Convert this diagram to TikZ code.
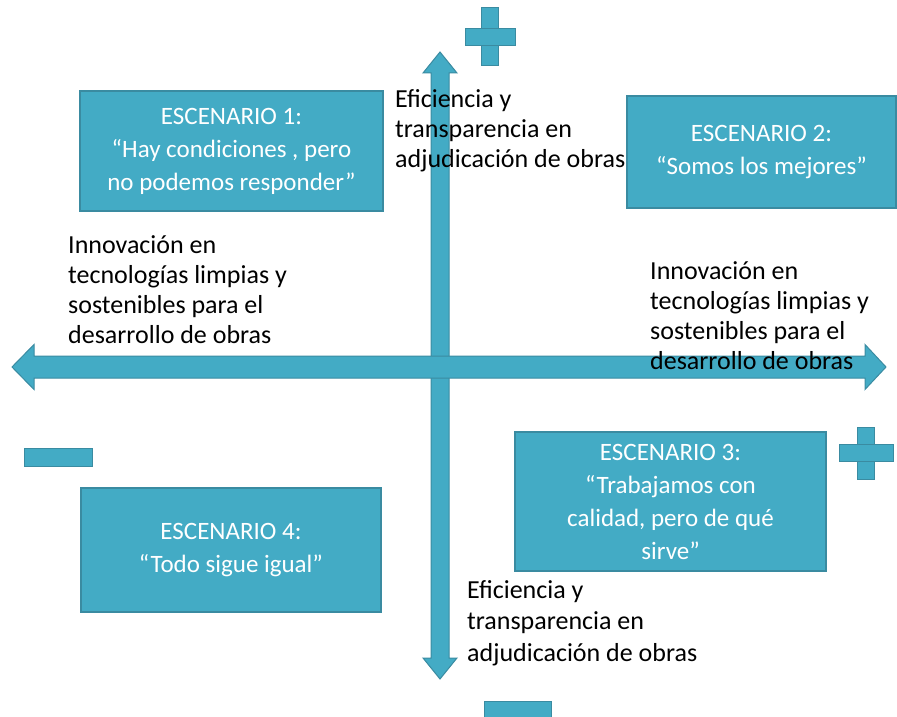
\documentclass[tikz,border=0pt]{standalone}
\usepackage{fontspec}
\setmainfont{Carlito}
\definecolor{aqua}{HTML}{43ABC5}
\definecolor{aquaedge}{HTML}{3A8BA1}
\tikzset{
  shapefill/.style={fill=aqua, draw=aquaedge, line width=1pt, line join=miter},
  scenbox/.style={fill=aqua, draw=aquaedge, line width=1.6pt, text=white, align=center,
    font=\fontsize{25}{33}\selectfont, inner sep=0pt},
  sidelabel/.style={text=black, align=left, anchor=north west, inner sep=0pt,
    font=\fontsize{26}{30}\selectfont},
}
\begin{document}
\begin{tikzpicture}[x=1pt,y=-1pt]
\useasboundingbox (0,0) rectangle (897,717);
% vertical arrow
\draw[shapefill] (440,52) -- (457,73) -- (449,73) -- (449,658) -- (457,658) -- (440,679)
  -- (423,658) -- (431,658) -- (431,73) -- (423,73) -- cycle;
% horizontal arrow
\draw[shapefill] (12,367) -- (34,344.5) -- (34,356) -- (865,356) -- (865,344.5) -- (886,367)
  -- (865,389.5) -- (865,378) -- (34,378) -- (34,389.5) -- cycle;
% plus / minus signs
\draw[shapefill] (481.5,8) rectangle (498.5,66);
\draw[shapefill] (465,28.5) rectangle (515,45.5);
\fill[aqua] (482.5,29.5) rectangle (497.5,44.5);
\draw[shapefill] (857.5,427) rectangle (874.5,479);
\draw[shapefill] (839,444.5) rectangle (893,461.5);
\fill[aqua] (858.5,445.5) rectangle (873.5,460.5);
\draw[shapefill] (24,448) rectangle (92,466);
\draw[shapefill] (484,701) rectangle (551,720);
% side labels
\node[sidelabel] (eftop) at (395,89) {Eficiencia y\\transparencia en\\adjudicación de obras};
\node[sidelabel] (innleft) at (68,235) {Innovación en\\tecnologías limpias y\\sostenibles para el\\desarrollo de obras};
\node[sidelabel] (innright) at (650,261) {Innovación en\\tecnologías limpias y\\sostenibles para el\\desarrollo de obras};
\node[sidelabel, font=\fontsize{26}{31.5}\selectfont] (efbot) at (467,580) {Eficiencia y\\transparencia en\\adjudicación de obras};
% scenario boxes
\node[scenbox, minimum width=303pt, minimum height=120pt] (s1) at (231.5,151)
  {ESCENARIO 1:\\“Hay condiciones , pero\\no podemos responder”};
\node[scenbox, minimum width=269pt, minimum height=112pt] (s2) at (761.5,152)
  {ESCENARIO 2:\\“Somos los mejores”};
\node[scenbox, minimum width=311pt, minimum height=139pt] (s3) at (670.5,501.5)
  {ESCENARIO 3:\\“Trabajamos con\\calidad, pero de qué\\sirve”};
\node[scenbox, minimum width=300pt, minimum height=124pt] (s4) at (231,550)
  {ESCENARIO 4:\\“Todo sigue igual”};
\end{tikzpicture}
\end{document}
